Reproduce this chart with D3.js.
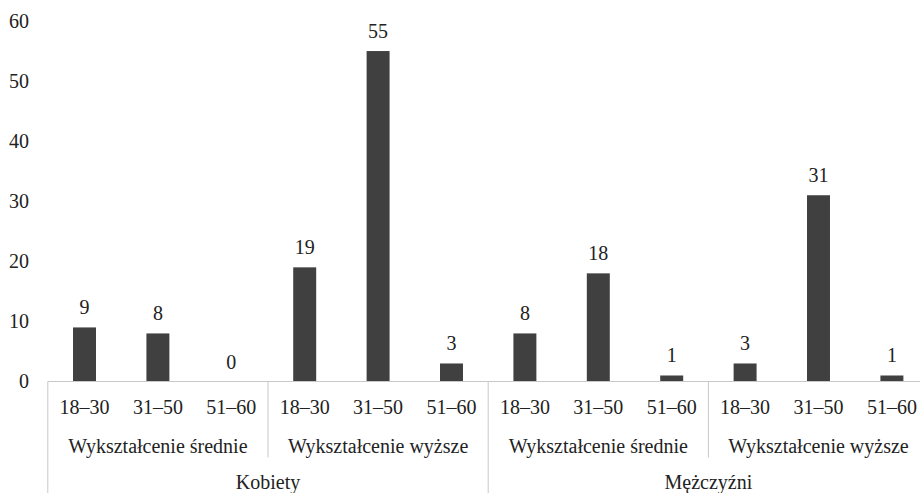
<!DOCTYPE html>
<html>
<head>
<meta charset="utf-8">
<script src="https://cdn.jsdelivr.net/npm/d3@7"></script>
<style>
  body { margin: 0; background: #fff; }
  svg { display: block; }
  .lbl { font-family: "Liberation Serif", "Times New Roman", Times, "DejaVu Serif", serif; font-size: 20px; fill: #222; }
</style>
</head>
<body>
<script>
// data
var genders = ["Kobiety", "Mężczyźni"],
    education = ["Wykształcenie średnie", "Wykształcenie wyższe"],
    ages = ["18–30", "31–50", "51–60"];
var kobietySrednie = [9, 8, 0],
    kobietyWyzsze = [19, 55, 3],
    mezczyzniSrednie = [8, 18, 1],
    mezczyzniWyzsze = [3, 31, 1];
var yTicks = [0, 10, 20, 30, 40, 50, 60];

var series = [[kobietySrednie, kobietyWyzsze], [mezczyzniSrednie, mezczyzniWyzsze]];
var data = [];
genders.forEach((g, gi) => education.forEach((e, ei) => ages.forEach((a, ai) => {
  data.push({key: `${g}|${e}|${a}`, gender: g, edu: e, age: a, value: series[gi][ei][ai]});
})));

var width = 920, height = 493,
    margin = {left: 47.8, right: -8.6, top: 21, bottom: 111.5};

var svg = d3.select("body").append("svg")
    .attr("width", width)
    .attr("height", height);

var x = d3.scaleBand().domain(data.map(d => d.key))
    .range([margin.left, width - margin.right]);
var y = d3.scaleLinear().domain([0, 60]).range([height - margin.bottom, margin.top]);
var barW = x.bandwidth() * 0.313;

// y axis (labels only)
var gy = svg.append("g")
    .attr("transform", `translate(${29}, 0)`)
    .call(d3.axisLeft(y).tickValues(yTicks).tickSize(0).tickPadding(0));
gy.attr("font-family", null).attr("font-size", null);
gy.select(".domain").remove();
gy.selectAll("text").attr("class", "lbl").attr("fill", null);

// bars
svg.append("g").selectAll("rect")
    .data(data)
    .join("rect")
    .attr("x", d => x(d.key) + (x.bandwidth() - barW) / 2)
    .attr("y", d => y(d.value))
    .attr("width", barW)
    .attr("height", d => y(0) - y(d.value))
    .attr("fill", "#404040");

// value labels
svg.append("g").selectAll("text")
    .data(data)
    .join("text")
    .attr("class", "lbl")
    .attr("text-anchor", "middle")
    .attr("x", d => x(d.key) + x.bandwidth() / 2)
    .attr("y", d => y(d.value) - 13)
    .text(d => d.value);

// category axis
var axisY = y(0), gridCol = "#c8c8c8";
var cat = svg.append("g");
cat.append("line")
    .attr("x1", x.range()[0]).attr("x2", x.range()[1])
    .attr("y1", axisY).attr("y2", axisY)
    .attr("stroke", gridCol);

cat.selectAll(".age")
    .data(data)
    .join("text")
    .attr("class", "lbl")
    .attr("text-anchor", "middle")
    .attr("x", d => x(d.key) + x.bandwidth() / 2)
    .attr("y", axisY + 32)
    .text(d => d.age);

// education groups
var eduGroups = [];
genders.forEach(g => education.forEach(e => eduGroups.push({gender: g, edu: e})));
var step = x.step();
eduGroups.forEach((d, i) => {
  var x0 = x(`${d.gender}|${d.edu}|${ages[0]}`),
      x1 = x0 + step * ages.length;
  cat.append("text")
      .attr("class", "lbl")
      .attr("text-anchor", "middle")
      .attr("x", (x0 + x1) / 2)
      .attr("y", axisY + 71)
      .text(d.edu);
  // separator between education groups inside a gender
  if (i % education.length != 0) {
    cat.append("line")
        .attr("x1", x0).attr("x2", x0)
        .attr("y1", axisY).attr("y2", axisY + 76)
        .attr("stroke", gridCol);
  }
});

// gender groups
genders.forEach((g, gi) => {
  var x0 = x(`${g}|${education[0]}|${ages[0]}`),
      x1 = x0 + step * ages.length * education.length;
  cat.append("text")
      .attr("class", "lbl")
      .attr("text-anchor", "middle")
      .attr("x", (x0 + x1) / 2)
      .attr("y", axisY + 107)
      .text(g);
  cat.append("line")
      .attr("x1", x0).attr("x2", x0)
      .attr("y1", axisY).attr("y2", height)
      .attr("stroke", gridCol);
  if (gi == genders.length - 1) {
    cat.append("line")
        .attr("x1", x1).attr("x2", x1)
        .attr("y1", axisY).attr("y2", height)
        .attr("stroke", gridCol);
  }
});
</script>
</body>
</html>
